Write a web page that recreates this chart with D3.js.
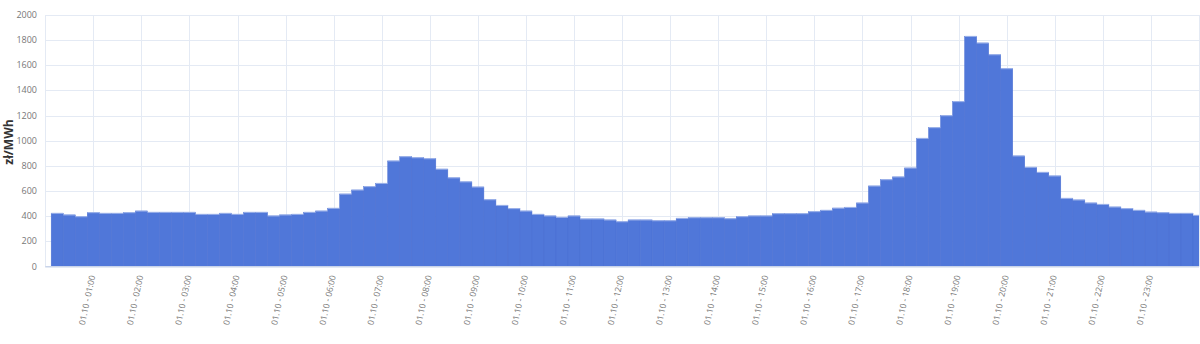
<!DOCTYPE html>
<html>
<head>
<meta charset="utf-8">
<script src="https://cdn.jsdelivr.net/npm/d3@7"></script>
<style>
	body { margin: 0; background: #fff; }
	svg { display: block; font-family: "Open Sans", sans-serif; }
	.grid line { stroke: #e4eaf4; stroke-width: 1; }
	.tickLabel { fill: #777; font-size: 9px; }
	.xTick { font-size: 8.5px; }
	.yTitle { fill: #333; font-size: 12px; font-weight: bold; }
</style>
</head>
<body>
<div id="chart"></div>
<script>
// price per 15-minute slot, 01.10 00:15 -> 24:00
var prices = [423, 410, 396, 428, 423, 423, 428, 441, 431, 431, 431, 431,
	415, 415, 423, 415, 431, 431, 402, 410, 415, 431, 441, 463,
	576, 608, 635, 661, 839, 873, 865, 857, 774, 705, 673, 632,
	531, 486, 460, 441, 415, 402, 391, 402, 378, 378, 370, 356,
	370, 370, 364, 364, 383, 388, 388, 388, 380, 396, 402, 402,
	420, 420, 420, 436, 447, 464, 470, 505, 640, 690, 712, 783,
	1019, 1104, 1199, 1311, 1830, 1777, 1684, 1573, 879, 789, 749, 720,
	542, 529, 505, 494, 473, 460, 447, 433, 428, 423, 423, 407]

var hourTicks = ["01:00", "02:00", "03:00", "04:00", "05:00", "06:00", "07:00", "08:00",
	"09:00", "10:00", "11:00", "12:00", "13:00", "14:00", "15:00", "16:00", "17:00",
	"18:00", "19:00", "20:00", "21:00", "22:00", "23:00"]

var yTicks = [0, 200, 400, 600, 800, 1000, 1200, 1400, 1600, 1800, 2000]

var DAY_LABEL = "01.10"
var WIDTH = 1200, HEIGHT = 344
var LEFT = 45.2, RIGHT = 1199, TOP = 15, BOTTOM = 266.5

var svg = d3.select("#chart").append("svg")
	.attr("width", WIDTH)
	.attr("height", HEIGHT)

var x = d3.scaleLinear()
	.domain([0, prices.length])
	.range([LEFT, RIGHT])

var y = d3.scaleLinear()
	.domain([0, 2000])
	.range([BOTTOM, TOP])

var barWidth = x(1) - x(0)

// grid
var grid = svg.append("g").attr("class", "grid")

grid.selectAll(".hline")
	.data(yTicks)
	.enter()
	.append("line")
	.attr("x1", LEFT)
	.attr("x2", RIGHT)
	.attr("y1", function(d){ return Math.round(y(d)) + 0.5 })
	.attr("y2", function(d){ return Math.round(y(d)) + 0.5 })

grid.selectAll(".vline")
	.data(d3.range(0, 25))
	.enter()
	.append("line")
	.attr("x1", function(d){ return Math.round(x(d*4)) + 0.5 })
	.attr("x2", function(d){ return Math.round(x(d*4)) + 0.5 })
	.attr("y1", TOP)
	.attr("y2", BOTTOM)

svg.append("clipPath")
	.attr("id", "plotClip")
	.append("rect")
	.attr("x", LEFT)
	.attr("y", 0)
	.attr("width", RIGHT - LEFT)
	.attr("height", BOTTOM)

// bars, each centred on the end of its quarter hour
svg.append("g")
	.attr("clip-path", "url(#plotClip)")
	.selectAll(".bar")
	.data(prices)
	.enter()
	.append("rect")
	.attr("class", "bar")
	.attr("x", function(d,i){ return x(i + 1) - barWidth/2 })
	.attr("width", barWidth)
	.attr("y", function(d){ return y(d) })
	.attr("height", function(d){ return BOTTOM - y(d) })
	.attr("fill", "#5077d9")
	.attr("stroke", "#4a6fd2")
	.attr("stroke-width", 0.5)

// light top edge on bars
svg.append("g")
	.attr("clip-path", "url(#plotClip)")
	.selectAll(".barTop")
	.data(prices)
	.enter()
	.append("line")
	.attr("x1", function(d,i){ return x(i + 1) - barWidth/2 })
	.attr("x2", function(d,i){ return x(i + 1) + barWidth/2 })
	.attr("y1", function(d){ return y(d) })
	.attr("y2", function(d){ return y(d) })
	.attr("stroke", "#9fb4ea")
	.attr("stroke-width", 1)

// baseline
svg.append("line")
	.attr("x1", LEFT)
	.attr("x2", RIGHT)
	.attr("y1", BOTTOM)
	.attr("y2", BOTTOM)
	.attr("stroke", "#c9d4ea")

// y tick labels
svg.selectAll(".yLabel")
	.data(yTicks)
	.enter()
	.append("text")
	.attr("class", "tickLabel")
	.attr("x", 37)
	.attr("y", function(d){ return y(d) + 3 })
	.attr("text-anchor", "end")
	.text(function(d){ return d })

svg.append("text")
	.attr("class", "yTitle")
	.attr("transform", "translate(13," + 142 + ") rotate(-90)")
	.attr("text-anchor", "middle")
	.text("zł/MWh")

// x tick labels
svg.selectAll(".xLabel")
	.data(hourTicks)
	.enter()
	.append("text")
	.attr("class", "tickLabel xTick")
	.attr("text-anchor", "end")
	.attr("transform", function(d,i){
		var px = x((i + 1) * 4) + 2
		return "translate(" + px + ",276) rotate(-78)"
	})
	.text(function(d){ return DAY_LABEL + " - " + d })
</script>
</body>
</html>
